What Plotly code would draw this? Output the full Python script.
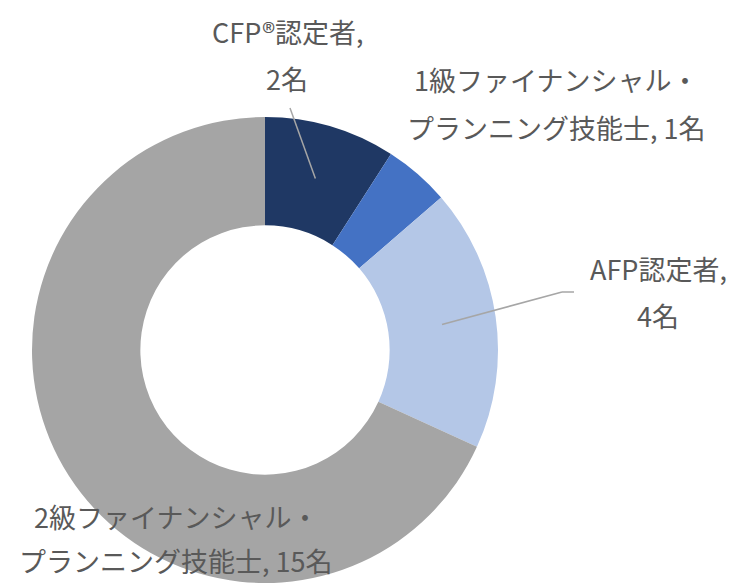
import math
import plotly.graph_objects as go

# ---- data ----
categories = ["CFP®認定者", "1級ファイナンシャル・プランニング技能士", "AFP認定者", "2級ファイナンシャル・プランニング技能士"]
values = [2, 1, 4, 15]
label_lines = [
    ["CFP®認定者,", "2名"],
    ["1級ファイナンシャル・", "プランニング技能士, 1名"],
    ["AFP認定者,", "4名"],
    ["2級ファイナンシャル・", "プランニング技能士, 15名"],
]
colors = ["#1F3864", "#4472C4", "#B4C7E7", "#A5A5A5"]

# ---- layout constants (pixels) ----
W, H = 734, 583
CX, CY, R = 265, 350, 233
HOLE = 0.535
TEXT_COLOR = "#595959"
FONT = "Noto Sans CJK JP, Noto Sans, sans-serif"
FS = 27
# label centre positions (first line), pixels, and line gap per label
label_pos = [(287, 31), (556, 80), (658, 268), (176, 516)]
line_gaps = [47, 47, 47, 44]
# leader line elbow/end points, pixels (None = no leader)
leader_end = [[(290, 108)], None, [(562, 292), (574, 292)], None]


def px(x):
    return x / W


def py(y):
    return 1 - y / H


fig = go.Figure(go.Pie(
    labels=categories,
    values=values,
    sort=False,
    direction="clockwise",
    rotation=0,
    hole=HOLE,
    marker=dict(colors=colors, line=dict(width=0)),
    textinfo="none",
    hoverinfo="label+value",
    domain=dict(x=[px(CX - R), px(CX + R)], y=[py(CY + R), py(CY - R)]),
    showlegend=False,
))

annotations = []
shapes = []
total = sum(values)
cum = 0
for i, v in enumerate(values):
    mid = (cum + v / 2) / total * 2 * math.pi
    cum += v
    x0, y0 = label_pos[i]
    for j, line in enumerate(label_lines[i]):
        annotations.append(dict(
            x=px(x0), y=py(y0 + j * line_gaps[i]), xref="paper", yref="paper",
            text=line, showarrow=False, xanchor="center", yanchor="middle",
            font=dict(family=FONT, size=FS, color=TEXT_COLOR),
        ))
    if leader_end[i]:
        rr = R * (1 + HOLE) / 2
        sx = CX + rr * math.sin(mid)
        sy = CY - rr * math.cos(mid)
        pts = [(sx, sy)] + leader_end[i]
        for (a, b), (c, d) in zip(pts[:-1], pts[1:]):
            shapes.append(dict(type="line", xref="paper", yref="paper",
                               x0=px(a), y0=py(b), x1=px(c), y1=py(d),
                               line=dict(color="#A6A6A6", width=1.5)))

fig.update_layout(
    width=W, height=H,
    margin=dict(l=0, r=0, t=0, b=0),
    paper_bgcolor="white",
    plot_bgcolor="white",
    annotations=annotations,
    shapes=shapes,
)

fig.write_html("out.html")
